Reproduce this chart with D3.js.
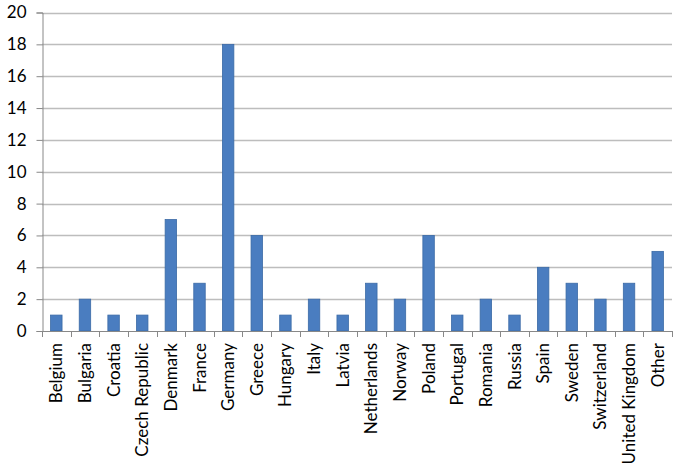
<!DOCTYPE html>
<html>
<head>
<meta charset="utf-8">
<script src="https://cdn.jsdelivr.net/npm/d3@7"></script>
<style>
  body { margin: 0; background: #fff; }
  text { font-family: Lato, "Open Sans", sans-serif; fill: #000; }
</style>
</head>
<body>
<div id="chart"></div>
<script>
const countries = ["Belgium", "Bulgaria", "Croatia", "Czech Republic", "Denmark", "France",
  "Germany", "Greece", "Hungary", "Italy", "Latvia", "Netherlands", "Norway", "Poland",
  "Portugal", "Romania", "Russia", "Spain", "Sweden", "Switzerland", "United Kingdom", "Other"];
const counts = [1, 2, 1, 1, 7, 3, 18, 6, 1, 2, 1, 3, 2, 6, 1, 2, 1, 4, 3, 2, 3, 5];
const yTicks = [0, 2, 4, 6, 8, 10, 12, 14, 16, 18, 20];

const width = 680, height = 467;
const plotL = 42, plotR = 672, plotT = 12.5, plotB = 331;

const svg = d3.select("#chart").append("svg")
  .attr("width", width)
  .attr("height", height);

const x = d3.scaleBand()
  .domain(countries)
  .range([plotL, plotR])
  .paddingInner(0.6)
  .paddingOuter(0.3);

const y = d3.scaleLinear()
  .domain([0, 20])
  .range([plotB, plotT]);

// gridlines
svg.append("g")
  .selectAll("line")
  .data(yTicks.filter(d => d > 0))
  .join("line")
  .attr("x1", plotL)
  .attr("x2", plotR)
  .attr("y1", d => Math.round(y(d)) + 0.5)
  .attr("y2", d => Math.round(y(d)) + 0.5)
  .attr("stroke", "#bdbdbd")
  .attr("stroke-width", 1.3);

// y axis
const yAxis = svg.append("g")
  .attr("transform", `translate(${plotL + 0.5},0)`)
  .call(d3.axisLeft(y).tickValues(yTicks).tickSize(6).tickPadding(10));
yAxis.select(".domain").attr("stroke", "#888");
yAxis.selectAll(".tick line").attr("stroke", "#888");
yAxis.selectAll("text").style("font-size", "17px");

// bars
svg.append("g")
  .selectAll("rect")
  .data(countries)
  .join("rect")
  .attr("x", d => x(d))
  .attr("width", x.bandwidth())
  .attr("y", (d, i) => y(counts[i]))
  .attr("height", (d, i) => plotB - y(counts[i]))
  .attr("fill", "#4a7dc0")
  .attr("stroke", "#3b6aa6")
  .attr("stroke-width", 0.8);

// x axis with ticks between categories
const step = x.step();
const xg = svg.append("g");
xg.append("line")
  .attr("x1", plotL).attr("x2", plotR)
  .attr("y1", plotB + 0.5).attr("y2", plotB + 0.5)
  .attr("stroke", "#888");
xg.selectAll("line.tk")
  .data(d3.range(countries.length + 1))
  .join("line")
  .attr("class", "tk")
  .attr("x1", i => Math.round(plotL + i * step) + 0.5)
  .attr("x2", i => Math.round(plotL + i * step) + 0.5)
  .attr("y1", plotB)
  .attr("y2", plotB + 6)
  .attr("stroke", "#888");
xg.selectAll("text")
  .data(countries)
  .join("text")
  .attr("transform", d => `translate(${x(d) + x.bandwidth() / 2 + 6},${plotB + 12}) rotate(-90)`)
  .attr("text-anchor", "end")
  .style("font-size", "17px")
  .text(d => d);
</script>
</body>
</html>
